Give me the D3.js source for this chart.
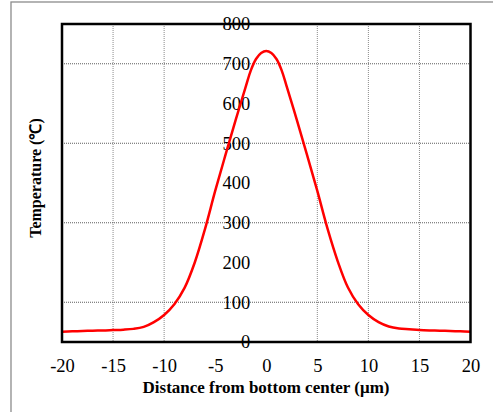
<!DOCTYPE html>
<html>
<head>
<meta charset="utf-8">
<script src="https://cdn.jsdelivr.net/npm/d3@7"></script>
<style>
html,body{margin:0;padding:0;background:#fff;}
svg{display:block;}
svg text{font-family:"Liberation Serif","Times New Roman",serif !important;fill:#000;}
</style>
</head>
<body>
<svg id="chart" width="493" height="412"></svg>
<script>
// Data
const distance = [-20,-19,-18,-17,-16,-15,-14,-13,-12,-11,-10,-9,-8,-7,-6,-5,-4,-3,-2,-1.5,-1,-0.5,0,0.5,1,1.5,2,3,4,5,6,7,8,9,10,11,12,13,14,15,16,17,18,19,20];
const temperature = [26,27,27.5,28.5,29,30,31,33,38,50,68,95,136,200,284,380,470,558,643,684,712,727,732,727,712,684,643,558,470,380,285,203,137,95,68,50,39,34,32,30,29,28.5,27.5,27,26];
const xTicks = [-20,-15,-10,-5,0,5,10,15,20];
const yTicks = [0,100,200,300,400,500,600,700,800];
const xGrid = [-15,-10,5,10,15];
const yGrid = [100,300,500,700];
const xTitle = "Distance from bottom center (\u03bcm)";
const yTitle = "Temperature (\u2103)";

const svg = d3.select("#chart");
const x = d3.scaleLinear().domain([-20,20]).range([62,470.5]);
const y = d3.scaleLinear().domain([0,800]).range([342,24]);

// outer frame
svg.append("rect").attr("x",11).attr("y",2).attr("width",500).attr("height",420)
  .attr("fill","none").attr("stroke","#8c8c8c").attr("stroke-width",1.3);

// grid
const g = svg.append("g");
g.selectAll(".vg").data(xGrid).join("line")
  .attr("x1",d=>x(d)).attr("x2",d=>x(d)).attr("y1",y(800)).attr("y2",y(0))
  .attr("stroke","#8a8a8a").attr("stroke-width",1).attr("stroke-dasharray","1,1");
g.selectAll(".hg").data(yGrid).join("line")
  .attr("x1",x(-20)).attr("x2",x(20)).attr("y1",d=>y(d)).attr("y2",d=>y(d))
  .attr("stroke","#5e5e5e").attr("stroke-width",1).attr("stroke-dasharray","1,1");

const serif = '"Liberation Serif","Times New Roman",serif';

// y axis at x=0 (labels only)
const yAxis = d3.axisLeft(y).tickValues(yTicks).tickSize(0).tickPadding(16).tickFormat(d=>String(d));
const ya = svg.append("g").attr("transform",`translate(${x(0)},0)`).call(yAxis)
  .attr("font-family",serif).attr("font-size",18.5);
ya.select(".domain").remove();
ya.selectAll(".tick line").remove();
ya.selectAll(".tick text").style("font-family",serif).style("font-size","18.5px").attr("fill","#000");

// curve
svg.append("path").datum(distance.map((d,i)=>[d,temperature[i]]))
  .attr("fill","none").attr("stroke","#ff0000").attr("stroke-width",2.5)
  .attr("d",d3.line().x(d=>x(d[0])).y(d=>y(d[1])).curve(d3.curveCatmullRom.alpha(0.5)));

// plot frame
svg.append("rect").attr("x",x(-20)).attr("y",y(800)).attr("width",x(20)-x(-20)).attr("height",y(0)-y(800))
  .attr("fill","none").attr("stroke","#000").attr("stroke-width",2.5);

// x axis labels
const xAxis = d3.axisBottom(x).tickValues(xTicks).tickSize(0).tickPadding(17).tickFormat(d=>String(d));
const xa = svg.append("g").attr("transform",`translate(0,${y(0)})`).call(xAxis)
  .attr("font-family",serif).attr("font-size",18.5);
xa.select(".domain").remove();
xa.selectAll(".tick text").style("font-family",serif).style("font-size","18.5px").attr("fill","#000");

// titles
svg.append("text").attr("x",266).attr("y",393).attr("text-anchor","middle")
  .style("font-size","17px").attr("font-weight","bold").text(xTitle);
svg.append("text").attr("transform","translate(41,178) rotate(-90)").attr("text-anchor","middle")
  .style("font-size","16px").attr("font-weight","bold").text(yTitle);
</script>
</body>
</html>
